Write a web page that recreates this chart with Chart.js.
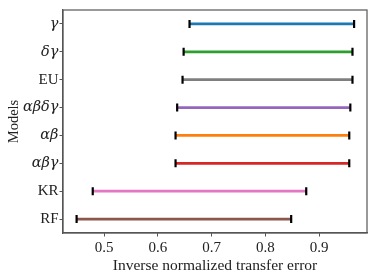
<!DOCTYPE html>
<html>
<head>
<meta charset="utf-8">
<script src="https://cdn.jsdelivr.net/npm/chart.js@4"></script>
<style>
  html, body { margin: 0; padding: 0; background: #fff; }
  #wrap { width: 374px; height: 276px; }
</style>
</head>
<body>
<div id="wrap"><canvas id="rangeChart"></canvas></div>
<script>
// Models from top to bottom
const models = ["γ", "δγ", "EU", "αβδγ", "αβ", "αβγ", "KR", "RF"];
const isGreek = [true, true, false, true, true, true, false, false];
// lower / upper end of each range (inverse normalized transfer error)
const lowVals = [0.659, 0.648, 0.646, 0.636, 0.633, 0.633, 0.479, 0.449];
const highVals = [0.965, 0.962, 0.962, 0.958, 0.956, 0.956, 0.876, 0.848];
const colors = ["#1f77b4", "#2ca02c", "#7f7f7f", "#9467bd", "#ff7f0e", "#d62728", "#e377c2", "#8c564b"];
const xTicks = [0.5, 0.6, 0.7, 0.8, 0.9];

const serif = "'Liberation Serif', 'DejaVu Serif', serif";
const greekSerif = "'DejaVu Serif', serif";

// cap points at both ends of each range
const caps = [];
models.forEach((m, i) => {
    caps.push({ x: lowVals[i], y: m });
    caps.push({ x: highVals[i], y: m });
});

// draws the full box round the plot area (top and right spines too)
const frameBox = {
    id: 'frameBox',
    beforeDatasetsDraw(chart) {
        const { ctx, chartArea: a } = chart;
        ctx.save();
        ctx.strokeStyle = '#555';
        ctx.lineWidth = 1.2;
        ctx.strokeRect(a.left, a.top, a.right - a.left, a.bottom - a.top);
        ctx.restore();
    }
};

const ctx = document.getElementById('rangeChart').getContext('2d');
new Chart(ctx, {
    type: 'bar',
    data: {
        labels: models,
        datasets: [{
            label: 'range',
            data: models.map((m, i) => [lowVals[i], highVals[i]]),
            backgroundColor: colors,
            barThickness: 2.2,
            borderWidth: 0,
            order: 2
        }, {
            type: 'scatter',
            label: 'caps',
            data: caps,
            pointStyle: 'line',
            rotation: 90,
            radius: 4,
            borderWidth: 2.2,
            borderColor: '#000',
            backgroundColor: '#000',
            order: 1
        }]
    },
    plugins: [frameBox],
    options: {
        indexAxis: 'y',
        responsive: true,
        maintainAspectRatio: false,
        animation: false,
        layout: { padding: { top: 6, right: 7, left: 0, bottom: 0 } },
        plugins: {
            legend: { display: false },
            tooltip: { enabled: false }
        },
        scales: {
            x: {
                type: 'linear',
                min: 0.4237,
                max: 0.989,
                afterBuildTicks: (scale) => { scale.ticks = xTicks.map(v => ({ value: v })); },
                afterFit: (scale) => { scale.height = 43; },
                grid: { drawOnChartArea: false, tickLength: 3.5, color: '#555' },
                border: { color: '#555', width: 1.2 },
                ticks: {
                    color: '#222',
                    padding: 3,
                    font: { family: serif, size: 15 },
                    callback: (v) => v.toFixed(1)
                },
                title: {
                    display: true,
                    text: 'Inverse normalized transfer error',
                    color: '#222',
                    padding: { top: 0, bottom: 1 },
                    font: { family: serif, size: 15.5 }
                }
            },
            y: {
                type: 'category',
                offset: true,
                afterFit: (scale) => { scale.width = 63; },
                grid: { drawOnChartArea: false, tickLength: 3.5, color: '#555', offset: false },
                border: { color: '#555', width: 1.2 },
                ticks: {
                    color: '#222',
                    padding: 1,
                    font: (c) => isGreek[c.index]
                        ? { family: greekSerif, size: 14.5, style: 'italic' }
                        : { family: serif, size: 15, style: 'normal' }
                },
                title: {
                    display: true,
                    text: 'Models',
                    color: '#222',
                    padding: { top: 5, bottom: 0 },
                    font: { family: serif, size: 14.5 }
                }
            }
        }
    }
});
</script>
</body>
</html>
